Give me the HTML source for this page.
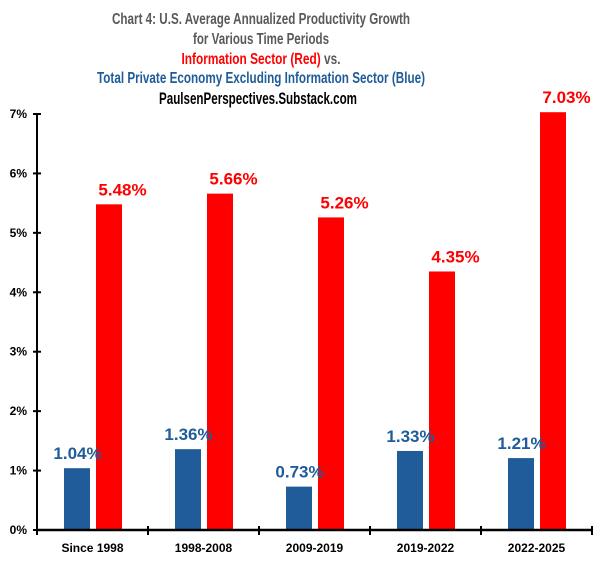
<!DOCTYPE html>
<html><head><meta charset="utf-8"><style>
html,body{margin:0;padding:0;background:#fff;}
svg{display:block;font-family:"Liberation Sans Narrow","Liberation Sans",sans-serif;}
</style></head><body>
<svg id="chart" width="604" height="563" viewBox="0 0 604 563" xmlns="http://www.w3.org/2000/svg">
<g font-weight="bold" text-anchor="middle">
<text x="261" y="24" font-size="16" fill="#595959" textLength="298" lengthAdjust="spacingAndGlyphs">Chart 4: U.S. Average Annualized Productivity Growth</text>
<text x="261" y="44" font-size="16" fill="#595959" textLength="136" lengthAdjust="spacingAndGlyphs">for Various Time Periods</text>
<text x="261" y="64" font-size="16" textLength="159" lengthAdjust="spacingAndGlyphs"><tspan fill="#ff0000">Information Sector (Red)</tspan><tspan fill="#595959"> vs.</tspan></text>
<text x="261" y="83" font-size="16" fill="#1f5c99" textLength="328" lengthAdjust="spacingAndGlyphs">Total Private Economy Excluding Information Sector (Blue)</text>
<text x="258" y="104" font-size="17" fill="#000" textLength="198" lengthAdjust="spacingAndGlyphs">PaulsenPerspectives.Substack.com</text>
</g>
<g id="plot"></g>
</svg>
<script>
const categories = ["Since 1998","1998-2008","2009-2019","2019-2022","2022-2025"];
const blueValues = [1.04,1.36,0.73,1.33,1.21];
const redValues = [5.48,5.66,5.26,4.35,7.03];
const yTicks = [0,1,2,3,4,5,6,7];

const NS="http://www.w3.org/2000/svg";
const plot=document.getElementById('plot');
const x0=37, catW=111, y0=530, pxPer=59.43;
function yScale(v){return y0-v*pxPer;}
function xCenter(i){return x0+catW*i+catW/2;}
function mk(tag,attrs,txt){const e=document.createElementNS(NS,tag);for(const k in attrs)e.setAttribute(k,attrs[k]);if(txt!==undefined)e.textContent=txt;plot.appendChild(e);return e;}

yTicks.forEach(t=>{
  const y=yScale(t);
  const tk=mk('line',{x1:x0-4,x2:x0+4,y1:y,y2:y,stroke:'#000','stroke-width':2});
  
  
  const lb=mk('text',{x:27,y:y+4,'text-anchor':'end','font-size':12,'font-weight':'bold',fill:'#000','font-family':'Liberation Sans, sans-serif'},t+'%');
  
  
});

categories.forEach((c,i)=>{
  const cx=xCenter(i);
  const bb=mk('rect',{x:cx-28.5,y:yScale(blueValues[i]),width:26,height:blueValues[i]*pxPer,fill:'#1f5c99'});
  
  
  const rb=mk('rect',{x:cx+3.5,y:yScale(redValues[i]),width:26,height:redValues[i]*pxPer,fill:'#ff0000'});
  
  
  const bl=mk('text',{x:cx-15,y:yScale(blueValues[i])-9,'text-anchor':'middle','font-size':17,'font-weight':'bold',fill:'#1f5c99','font-family':'Liberation Sans, sans-serif'},blueValues[i].toFixed(2)+'%');
  
  
  const rl=mk('text',{x:cx+30,y:yScale(redValues[i])-9,'text-anchor':'middle','font-size':17,'font-weight':'bold',fill:'#ff0000','font-family':'Liberation Sans, sans-serif'},redValues[i].toFixed(2)+'%');
  
  
  const xl=mk('text',{x:cx,y:552,'text-anchor':'middle','font-size':12,'font-weight':'bold',fill:'#000','font-family':'Liberation Sans, sans-serif'},c);
  
  
});
for(let i=0;i<=categories.length;i++){
  const x=x0+catW*i;
  const t=mk('line',{x1:x,x2:x,y1:y0-4,y2:y0+5,stroke:'#000','stroke-width':2});
  
  
}
const ya=mk('line',{x1:x0,x2:x0,y1:yScale(7)-1,y2:y0+1,stroke:'#000','stroke-width':2});


const xa=mk('line',{x1:x0,x2:x0+catW*5,y1:y0,y2:y0,stroke:'#000','stroke-width':2.5});


</script>
</body></html>
